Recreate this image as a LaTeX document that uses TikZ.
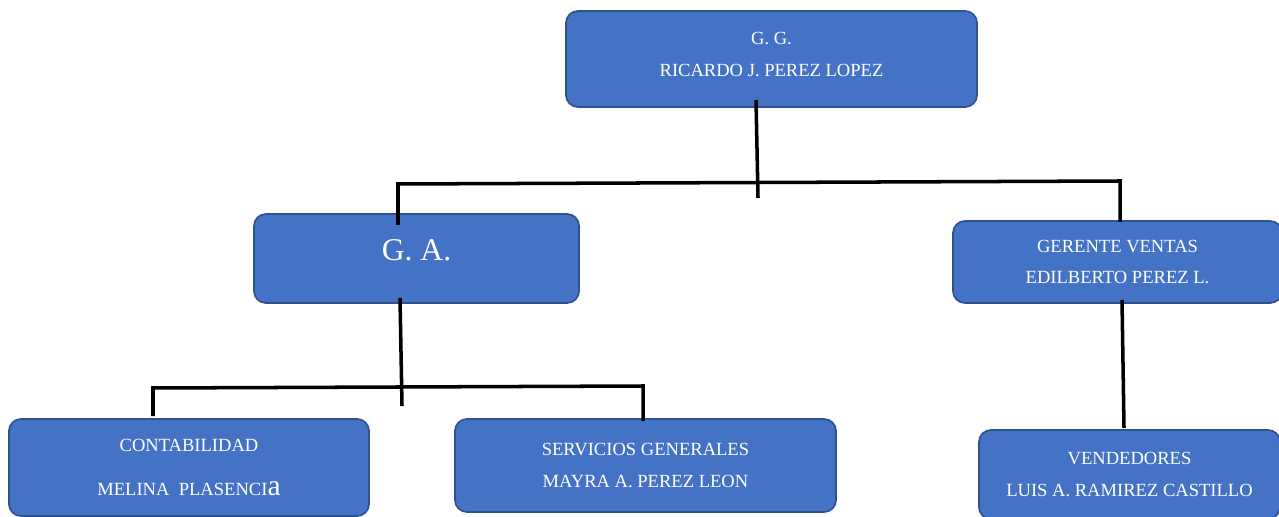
\documentclass[tikz,border=0pt]{standalone}
\usepackage{fontspec}
\setmainfont{Liberation Serif}
\definecolor{cajaazul}{HTML}{4472C4}
\definecolor{bordeazul}{HTML}{2F528F}

\begin{document}
\begin{tikzpicture}[x=0.025cm,y=-0.025cm,
  puesto/.style={draw=bordeazul,line width=1.2pt,fill=cajaazul,rounded corners=0.3cm,
    text=white,align=center,inner sep=0pt,font=\fontsize{13.2}{22.5}\selectfont},
  linea/.style={line width=2.5pt,black}]
\useasboundingbox (0,0) rectangle (1279,517);

% cajas
\node[puesto,minimum width=10.275cm,minimum height=2.4cm,text depth=6.5pt] (gg) at (771.5,59) {G. G.\\RICARDO J. PEREZ LOPEZ};
\node[puesto,minimum width=8.125cm,minimum height=2.225cm,text depth=11.5pt,font=\fontsize{22.5}{26}\selectfont] (ga) at (416.5,258.5) {G. A.};
\node[puesto,minimum width=8.225cm,minimum height=2.05cm] (gv) at (1117.5,262) {GERENTE VENTAS\\EDILBERTO PEREZ L.};
\node[puesto,minimum width=9cm,minimum height=2.425cm] (cont) at (189,467.5) {CONTABILIDAD\\[9pt]MELINA\ \ PLASENCI{\fontsize{21}{21}\selectfont a}};
\node[puesto,minimum width=9.525cm,minimum height=2.325cm] (serv) at (645.5,465.5) {SERVICIOS GENERALES\\MAYRA A. PEREZ LEON};
\node[puesto,minimum width=7.525cm,minimum height=2.225cm] (vend) at (1129.5,474.5) {VENDEDORES\\LUIS A. RAMIREZ CASTILLO};

% lineas
\coordinate (gg-sal) at (756,100);
\coordinate (gg-fin) at (758,198);
\coordinate (barra1-izq) at (398,184);
\coordinate (barra1-der) at (1120,181);
\coordinate (ga-ent) at (398,225);
\coordinate (gv-ent) at (1120,222);
\draw[linea] (gg-sal) -- (gg-fin);
\draw[linea] (ga-ent) -- (barra1-izq) -- (barra1-der) -- (gv-ent);

\coordinate (ga-sal) at (400,298);
\coordinate (ga-fin) at (402,406);
\coordinate (barra2-izq) at (153,388);
\coordinate (barra2-der) at (643,386);
\coordinate (cont-ent) at (153,416);
\coordinate (serv-ent) at (643,421);
\draw[linea] (ga-sal) -- (ga-fin);
\draw[linea] (cont-ent) -- (barra2-izq) -- (barra2-der) -- (serv-ent);

\coordinate (gv-sal) at (1122,300);
\coordinate (vend-ent) at (1124,428);
\draw[linea] (gv-sal) -- (vend-ent);
\end{tikzpicture}
\end{document}
